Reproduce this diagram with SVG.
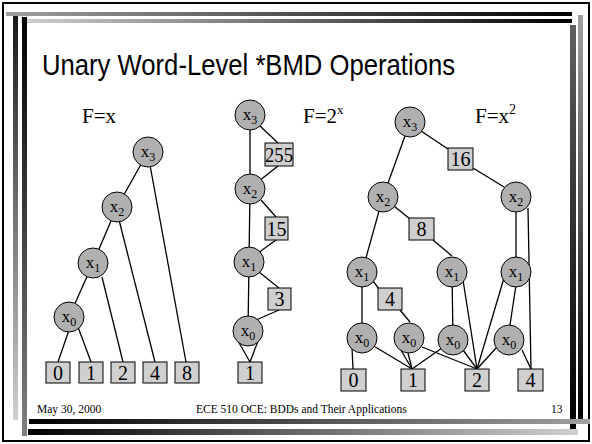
<svg xmlns="http://www.w3.org/2000/svg" width="592" height="444" viewBox="0 0 592 444">
<defs>
<linearGradient id="gTop1" x1="0" y1="0" x2="1" y2="0"><stop offset="0" stop-color="#a0a0a0"/><stop offset="1" stop-color="#000"/></linearGradient>
<linearGradient id="gTop2" x1="0" y1="0" x2="1" y2="0"><stop offset="0" stop-color="#d0d0d0"/><stop offset="1" stop-color="#000"/></linearGradient>
<linearGradient id="gLA" x1="0" y1="0" x2="0" y2="1"><stop offset="0" stop-color="#1a1a1a"/><stop offset="1" stop-color="#d0d0d0"/></linearGradient>
<linearGradient id="gLB" x1="0" y1="0" x2="0" y2="1"><stop offset="0" stop-color="#000"/><stop offset="1" stop-color="#808080"/></linearGradient>
<linearGradient id="gRC" x1="0" y1="0" x2="0" y2="1"><stop offset="0" stop-color="#606060"/><stop offset="1" stop-color="#000"/></linearGradient>
<linearGradient id="gRD" x1="0" y1="0" x2="0" y2="1"><stop offset="0" stop-color="#a0a0a0"/><stop offset="1" stop-color="#000"/></linearGradient>
<linearGradient id="gB1" x1="0" y1="0" x2="1" y2="0"><stop offset="0" stop-color="#000"/><stop offset="1" stop-color="#a0a0a0"/></linearGradient>
<linearGradient id="gB2" x1="0" y1="0" x2="1" y2="0"><stop offset="0" stop-color="#000"/><stop offset="1" stop-color="#d0d0d0"/></linearGradient>
</defs>
<style>
.n circle{fill:#b0b0b0;stroke:#000;stroke-width:1}
.n rect{fill:#cfcfcf;stroke:#000;stroke-width:1}
.lbl{font-family:"Liberation Serif","Times New Roman",serif;font-size:17px;fill:#000;text-anchor:middle}
.sub{font-size:12px}
.box{font-family:"Liberation Serif","Times New Roman",serif;font-size:20px;fill:#000;text-anchor:middle}
.cap{font-family:"Liberation Serif","Times New Roman",serif;font-size:21px;fill:#000}
.ft{font-family:"Liberation Serif","Times New Roman",serif;font-size:11.5px;fill:#000}
#edges line{stroke:#000;stroke-width:1.3}
</style>
<rect x="0" y="0" width="592" height="444" fill="#fff"/>
<rect x="3" y="3" width="586" height="438" fill="none" stroke="#000" stroke-width="2"/>
<g id="frame">
<rect x="6" y="12" width="566" height="4" fill="url(#gTop1)"/>
<rect x="21" y="19" width="551" height="4" fill="url(#gTop2)"/>
<rect x="13" y="16" width="5" height="404" fill="url(#gLA)"/>
<rect x="22" y="17" width="5" height="419" fill="url(#gLB)"/>
<rect x="570" y="25" width="6" height="404" fill="url(#gRC)"/>
<rect x="578" y="15" width="5" height="404" fill="url(#gRD)"/>
<rect x="29" y="419" width="561" height="5" fill="url(#gB1)"/>
<rect x="28" y="429" width="550" height="6" fill="url(#gB2)"/>
</g>
<text x="42" y="75" font-family="'Liberation Sans',Arial,sans-serif" font-size="30" textLength="413" lengthAdjust="spacingAndGlyphs">Unary Word-Level *BMD Operations</text>
<text class="cap" x="82" y="123">F=x</text>
<text class="cap" x="303" y="123">F=2<tspan font-size="13" dy="-9">x</tspan></text>
<text class="cap" x="475" y="123">F=x<tspan font-size="14" dy="-9">2</tspan></text>
<g id="edges">
<line x1="148" y1="152" x2="117" y2="207"/>
<line x1="117" y1="207" x2="93" y2="263"/>
<line x1="93" y1="263" x2="69" y2="317"/>
<line x1="150" y1="165" x2="186" y2="362"/>
<line x1="117" y1="212" x2="155" y2="362"/>
<line x1="102" y1="277" x2="123" y2="362"/>
<line x1="69" y1="330" x2="58" y2="362"/>
<line x1="78" y1="327" x2="91" y2="362"/>
<line x1="250" y1="115" x2="250" y2="189"/>
<line x1="250" y1="189" x2="249" y2="262"/>
<line x1="249" y1="262" x2="248" y2="331"/>
<line x1="260" y1="126" x2="278" y2="143"/>
<line x1="278" y1="166" x2="259" y2="181"/>
<line x1="261" y1="200" x2="276" y2="217"/>
<line x1="276" y1="240" x2="258" y2="253"/>
<line x1="259" y1="272" x2="279" y2="288"/>
<line x1="279" y1="310" x2="256" y2="320"/>
<line x1="238" y1="341" x2="250" y2="362"/>
<line x1="258" y1="341" x2="250" y2="362"/>
<line x1="410" y1="122" x2="383" y2="197"/>
<line x1="421" y1="131" x2="448" y2="149"/>
<line x1="473" y1="168" x2="504" y2="187"/>
<line x1="394" y1="206" x2="410" y2="219"/>
<line x1="433" y1="240" x2="452" y2="256"/>
<line x1="383" y1="197" x2="362" y2="272"/>
<line x1="373" y1="281" x2="379" y2="289"/>
<line x1="400" y1="310" x2="410" y2="322"/>
<line x1="362" y1="272" x2="362" y2="338"/>
<line x1="452" y1="272" x2="453" y2="340"/>
<line x1="463" y1="280" x2="477" y2="369"/>
<line x1="516" y1="197" x2="516" y2="272"/>
<line x1="528" y1="208" x2="531" y2="369"/>
<line x1="504" y1="278" x2="477" y2="369"/>
<line x1="516" y1="285" x2="510" y2="325"/>
<line x1="352" y1="347" x2="353" y2="369"/>
<line x1="372" y1="345" x2="412" y2="369"/>
<line x1="398" y1="345" x2="412" y2="369"/>
<line x1="408" y1="353" x2="412" y2="369"/>
<line x1="422" y1="347" x2="477" y2="369"/>
<line x1="442" y1="348" x2="412" y2="369"/>
<line x1="463" y1="350" x2="477" y2="369"/>
<line x1="497" y1="347" x2="477" y2="369"/>
<line x1="522" y1="350" x2="531" y2="369"/>
</g>
<!-- left diagram F=x -->
<g id="L_x3" class="n"><circle cx="148" cy="152" r="15"/><text class="lbl" x="148" y="157">x<tspan class="sub" dy="4">3</tspan></text></g>
<g id="L_x2" class="n"><circle cx="117" cy="207" r="15"/><text class="lbl" x="117" y="212">x<tspan class="sub" dy="4">2</tspan></text></g>
<g id="L_x1" class="n"><circle cx="93" cy="263" r="15"/><text class="lbl" x="93" y="268">x<tspan class="sub" dy="4">1</tspan></text></g>
<g id="L_x0" class="n"><circle cx="69" cy="317" r="15"/><text class="lbl" x="69" y="322">x<tspan class="sub" dy="4">0</tspan></text></g>
<g id="L_0" class="n"><rect x="46" y="362" width="24" height="21"/><text class="box" x="58" y="380">0</text></g>
<g id="L_1" class="n"><rect x="79" y="362" width="24" height="21"/><text class="box" x="91" y="380">1</text></g>
<g id="L_2" class="n"><rect x="111" y="362" width="24" height="21"/><text class="box" x="123" y="380">2</text></g>
<g id="L_4" class="n"><rect x="143" y="362" width="24" height="21"/><text class="box" x="155" y="380">4</text></g>
<g id="L_8" class="n"><rect x="175" y="362" width="24" height="21"/><text class="box" x="187" y="380">8</text></g>
<!-- middle diagram F=2^x -->
<g id="M_x3" class="n"><circle cx="250" cy="115" r="15"/><text class="lbl" x="250" y="120">x<tspan class="sub" dy="4">3</tspan></text></g>
<g id="M_x2" class="n"><circle cx="250" cy="189" r="15"/><text class="lbl" x="250" y="194">x<tspan class="sub" dy="4">2</tspan></text></g>
<g id="M_x1" class="n"><circle cx="249" cy="262" r="15"/><text class="lbl" x="249" y="267">x<tspan class="sub" dy="4">1</tspan></text></g>
<g id="M_x0" class="n"><circle cx="248" cy="331" r="15"/><text class="lbl" x="248" y="336">x<tspan class="sub" dy="4">0</tspan></text></g>
<g id="M_255" class="n"><rect x="265" y="143" width="28" height="23"/><text class="box" x="279" y="162" textLength="28" lengthAdjust="spacingAndGlyphs">255</text></g>
<g id="M_15" class="n"><rect x="265" y="217" width="23" height="23"/><text class="box" x="276.5" y="236">15</text></g>
<g id="M_3" class="n"><rect x="268" y="288" width="23" height="22"/><text class="box" x="279.5" y="306">3</text></g>
<g id="M_1" class="n"><rect x="238" y="362" width="24" height="21"/><text class="box" x="250" y="380">1</text></g>
<!-- right diagram F=x^2 -->
<g id="R_x3" class="n"><circle cx="410" cy="122" r="15"/><text class="lbl" x="410" y="127">x<tspan class="sub" dy="4">3</tspan></text></g>
<g id="R_x2a" class="n"><circle cx="383" cy="197" r="15"/><text class="lbl" x="383" y="202">x<tspan class="sub" dy="4">2</tspan></text></g>
<g id="R_x2b" class="n"><circle cx="516" cy="197" r="15"/><text class="lbl" x="516" y="202">x<tspan class="sub" dy="4">2</tspan></text></g>
<g id="R_x1a" class="n"><circle cx="362" cy="272" r="15"/><text class="lbl" x="362" y="277">x<tspan class="sub" dy="4">1</tspan></text></g>
<g id="R_x1b" class="n"><circle cx="452" cy="272" r="15"/><text class="lbl" x="452" y="277">x<tspan class="sub" dy="4">1</tspan></text></g>
<g id="R_x1c" class="n"><circle cx="516" cy="272" r="15"/><text class="lbl" x="516" y="277">x<tspan class="sub" dy="4">1</tspan></text></g>
<g id="R_x0a" class="n"><circle cx="362" cy="338" r="15"/><text class="lbl" x="362" y="343">x<tspan class="sub" dy="4">0</tspan></text></g>
<g id="R_x0b" class="n"><circle cx="409" cy="338" r="15"/><text class="lbl" x="409" y="343">x<tspan class="sub" dy="4">0</tspan></text></g>
<g id="R_x0c" class="n"><circle cx="453" cy="340" r="15"/><text class="lbl" x="453" y="345">x<tspan class="sub" dy="4">0</tspan></text></g>
<g id="R_x0d" class="n"><circle cx="509" cy="340" r="15"/><text class="lbl" x="509" y="345">x<tspan class="sub" dy="4">0</tspan></text></g>
<g id="R_16" class="n"><rect x="448" y="148" width="25" height="22"/><text class="box" x="460.5" y="166">16</text></g>
<g id="R_8" class="n"><rect x="409" y="218" width="25" height="22"/><text class="box" x="421.5" y="236">8</text></g>
<g id="R_4m" class="n"><rect x="378" y="288" width="24" height="22"/><text class="box" x="390" y="306">4</text></g>
<g id="R_0" class="n"><rect x="341" y="369" width="25" height="22"/><text class="box" x="353.5" y="387">0</text></g>
<g id="R_1" class="n"><rect x="401" y="369" width="24" height="22"/><text class="box" x="413" y="387">1</text></g>
<g id="R_2" class="n"><rect x="465" y="369" width="24" height="22"/><text class="box" x="477" y="387">2</text></g>
<g id="R_4" class="n"><rect x="518" y="369" width="25" height="22"/><text class="box" x="530.5" y="387">4</text></g>
<text class="ft" x="37" y="413">May 30, 2000</text>
<text class="ft" x="196" y="413">ECE 510 OCE: BDDs and Their Applications</text>
<text class="ft" x="551" y="413">13</text>
</svg>
